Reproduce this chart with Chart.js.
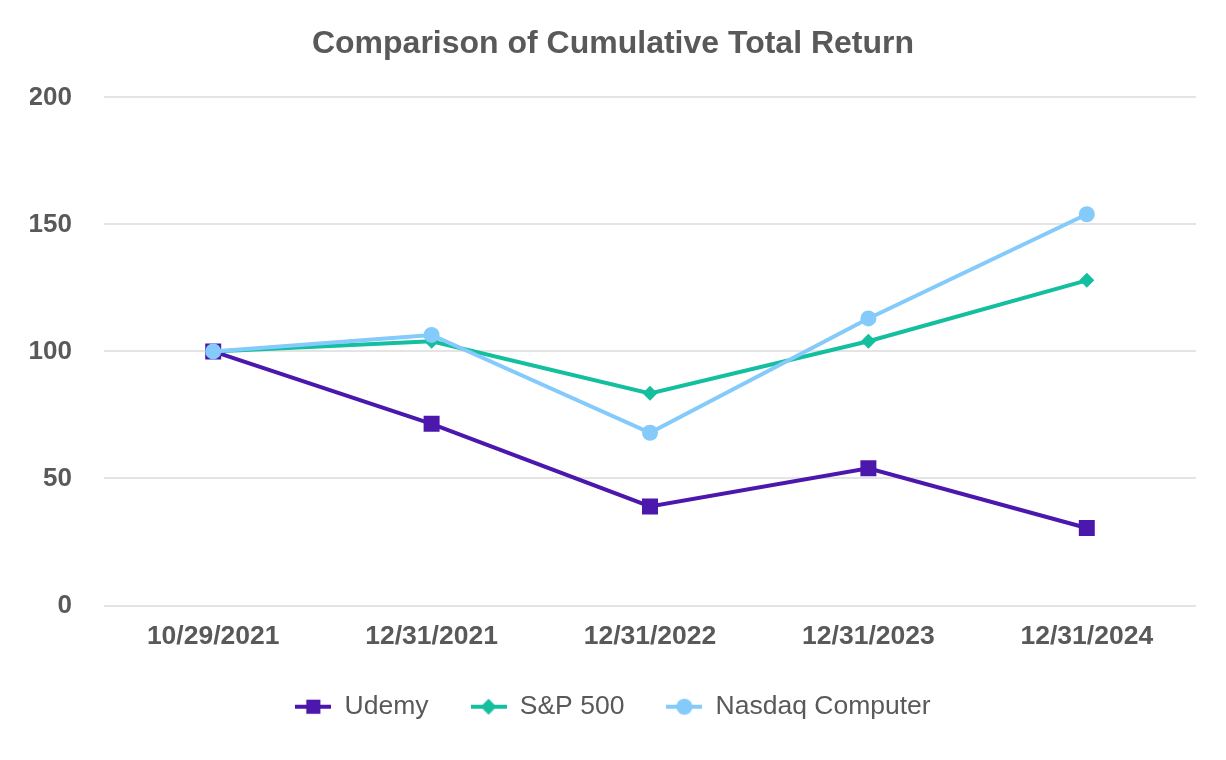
<!DOCTYPE html>
<html>
<head>
<meta charset="utf-8">
<script src="https://cdn.jsdelivr.net/npm/chart.js@4"></script>
<style>
html,body{margin:0;padding:0;background:#fff;}
#wrap{width:1226px;height:760px;position:relative;}
</style>
</head>
<body>
<div id="wrap"><canvas id="c" width="1226" height="760"></canvas></div>
<script>
const categories = ['10/29/2021', '12/31/2021', '12/31/2022', '12/31/2023', '12/31/2024'];
const udemy = [100, 71.5, 39, 54, 30.5];
const sp500 = [100, 104, 83.5, 104, 128];
const nasdaq = [100, 106.5, 68, 113, 154];
const yTicks = [0, 50, 100, 150, 200];

const C_UDEMY = '#4B17AD';
const C_SP = '#14BF9F';
const C_NAS = '#84CAFA';
const TXT = '#595959';

function legendIcon(color, style, r) {
  const cv = document.createElement('canvas');
  cv.width = 36; cv.height = 20;
  const g = cv.getContext('2d');
  g.strokeStyle = color; g.lineWidth = 4;
  g.beginPath(); g.moveTo(0, 10); g.lineTo(36, 10); g.stroke();
  g.fillStyle = color;
  g.beginPath();
  if (style === 'rect') { const s = r * Math.SQRT1_2; g.rect(18 - s, 10 - s, 2 * s, 2 * s); }
  else if (style === 'rectRot') { g.moveTo(18 - r, 10); g.lineTo(18, 10 - r); g.lineTo(18 + r, 10); g.lineTo(18, 10 + r); g.closePath(); }
  else { g.arc(18, 10, r, 0, Math.PI * 2); }
  g.fill();
  return cv;
}

const series = [
  {label: 'Udemy', data: udemy, color: C_UDEMY, style: 'rect', r: 11.3, order: 2},
  {label: 'S&P 500', data: sp500, color: C_SP, style: 'rectRot', r: 7.5, order: 1},
  {label: 'Nasdaq Computer', data: nasdaq, color: C_NAS, style: 'circle', r: 8, order: 0}
];

new Chart(document.getElementById('c'), {
  type: 'line',
  data: {
    labels: categories,
    datasets: series.map(s => ({
      label: s.label, data: s.data,
      borderColor: s.color, backgroundColor: s.color,
      borderWidth: 4, pointStyle: s.style, pointRadius: s.r,
      pointHoverRadius: s.r, pointBorderWidth: 0, tension: 0, order: s.order,
      legendImg: legendIcon(s.color, s.style, s.style === 'rect' ? 10 : 8)
    }))
  },
  options: {
    responsive: false, animation: false, devicePixelRatio: 1,
    layout: {padding: {left: 30, right: 30, top: 10, bottom: 30}},
    plugins: {
      title: {display: true, text: 'Comparison of Cumulative Total Return',
        color: TXT, font: {family: 'Liberation Sans, Arial', size: 32, weight: 'bold'},
        padding: {top: 15, bottom: 34}},
      legend: {
        position: 'bottom',
        labels: {
          usePointStyle: true, pointStyleWidth: 36, padding: 42,
          color: TXT, font: {family: 'Liberation Sans, Arial', size: 26.5},
          generateLabels: (chart) => chart.data.datasets.map((d, i) => ({
            text: d.label, fillStyle: d.borderColor, strokeStyle: d.borderColor,
            lineWidth: 0, pointStyle: d.legendImg, datasetIndex: i, fontColor: TXT
          }))
        }
      },
      tooltip: {enabled: false}
    },
    scales: {
      x: {
        offset: true,
        grid: {display: false, drawTicks: false},
        border: {display: false},
        ticks: {color: TXT, font: {family: 'Liberation Sans, Arial', size: 26.5, weight: 'bold'}, padding: 15, maxRotation: 0},
        afterFit: (s) => { s.height = 46; }
      },
      y: {
        min: 0, max: 200,
        afterBuildTicks: (s) => { s.ticks = yTicks.map(v => ({value: v})); },
        grid: {color: '#E4E4E4', lineWidth: 2, drawTicks: false},
        border: {display: false},
        ticks: {color: TXT, font: {family: 'Liberation Sans, Arial', size: 26, weight: 'bold'}, padding: 32},
        afterFit: (s) => { s.width = 74; }
      }
    }
  }
});
</script>
</body>
</html>
